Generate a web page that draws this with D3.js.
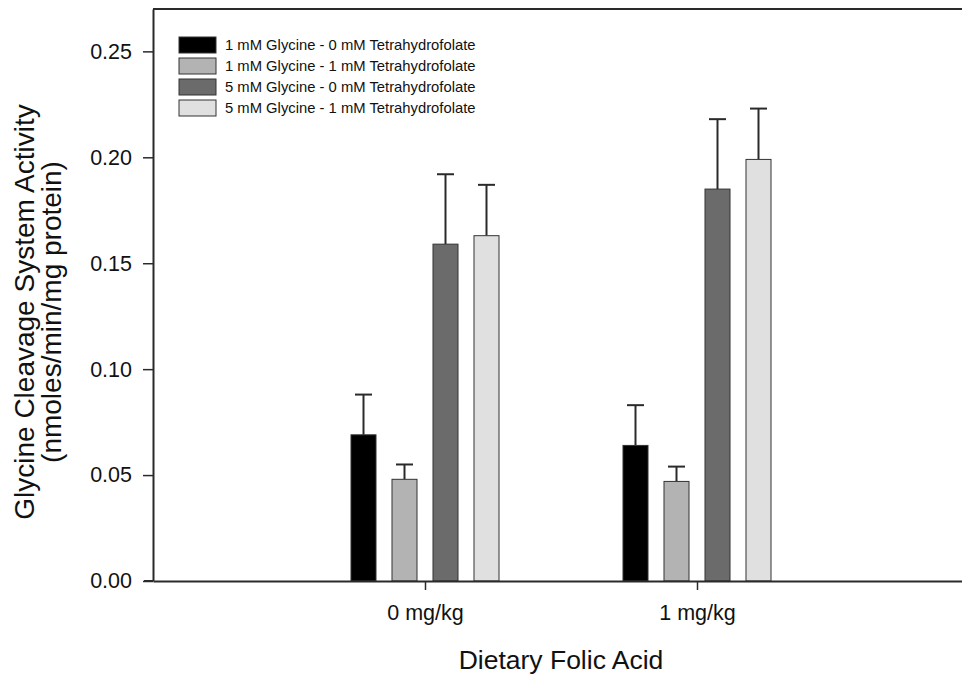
<!DOCTYPE html>
<html>
<head>
<meta charset="utf-8">
<script src="https://cdn.jsdelivr.net/npm/d3@7"></script>
<style>
  body { margin: 0; background: #fff; }
  svg { display: block; font-family: 'Liberation Sans', Arial, sans-serif; }
</style>
</head>
<body>
<div class="chart"></div>
<script>
// data
const categories = ['0 mg/kg', '1 mg/kg'];
const seriesNames = [
  '1 mM Glycine - 0 mM Tetrahydrofolate',
  '1 mM Glycine - 1 mM Tetrahydrofolate',
  '5 mM Glycine - 0 mM Tetrahydrofolate',
  '5 mM Glycine - 1 mM Tetrahydrofolate'
];
const means = [
  [0.069, 0.048, 0.159, 0.163],
  [0.064, 0.047, 0.185, 0.199]
];
const errors = [
  [0.019, 0.007, 0.033, 0.024],
  [0.019, 0.007, 0.033, 0.024]
];
const yTicks = [0, 0.05, 0.10, 0.15, 0.20, 0.25];
const fills = ['#000000', '#b3b3b3', '#6b6b6b', '#e0e0e0'];

const width = 962;
const height = 677;
const margin = { top: 9, left: 153, bottom: 96 };
const plotRight = 969; // frame runs past the picture edge

const svg = d3
  .select('.chart')
  .append('svg')
  .attr('width', width)
  .attr('height', height);

const x = d3.scaleLinear().domain([0, 3]).range([margin.left, plotRight]);

const inner = d3
  .scaleBand()
  .domain(d3.range(seriesNames.length))
  .range([-82, 82])
  .paddingInner(0.39)
  .paddingOuter(0.195);

const y = d3
  .scaleLinear()
  .domain([0, 0.27])
  .range([height - margin.bottom, margin.top]);

const rows = [];
means.forEach((vals, ci) => {
  vals.forEach((v, si) => {
    rows.push({ ci, si, v, e: errors[ci][si] });
  });
});

const barX = (d) => x(d.ci + 1) + inner(d.si);

// error bars (upper only), drawn under the bars
const errG = svg.append('g').attr('stroke', '#2a2a2a').attr('stroke-width', 2);
errG
  .selectAll('line.stem')
  .data(rows)
  .enter()
  .append('line')
  .attr('x1', (d) => barX(d) + inner.bandwidth() / 2)
  .attr('x2', (d) => barX(d) + inner.bandwidth() / 2)
  .attr('y1', (d) => y(d.v))
  .attr('y2', (d) => y(d.v + d.e));
errG
  .selectAll('line.cap')
  .data(rows)
  .enter()
  .append('line')
  .attr('x1', (d) => barX(d) + inner.bandwidth() / 2 - 8.5)
  .attr('x2', (d) => barX(d) + inner.bandwidth() / 2 + 8.5)
  .attr('y1', (d) => y(d.v + d.e))
  .attr('y2', (d) => y(d.v + d.e));

svg
  .append('g')
  .selectAll('rect')
  .data(rows)
  .enter()
  .append('rect')
  .attr('x', barX)
  .attr('y', (d) => y(d.v))
  .attr('width', inner.bandwidth())
  .attr('height', (d) => y(0) - y(d.v))
  .attr('fill', (d) => fills[d.si])
  .attr('stroke', '#333')
  .attr('stroke-width', 1);

// y axis
const yAxis = svg
  .append('g')
  .attr('transform', `translate(${margin.left},0)`)
  .call(
    d3.axisLeft(y)
      .tickValues(yTicks)
      .tickFormat(d3.format('.2f'))
      .tickSize(10)
      .tickPadding(11)
      .tickSizeOuter(0)
  );
yAxis.select('.domain').attr('stroke', '#2a2a2a').attr('stroke-width', 2);
yAxis.selectAll('.tick line').attr('stroke', '#2a2a2a').attr('stroke-width', 1.5);
yAxis.selectAll('.tick text')
  .attr('font-size', '21.5px')
  .attr('fill', '#111')
  .attr('font-family', "'Liberation Sans', Arial, sans-serif");

// x axis
const xAxis = svg
  .append('g')
  .attr('transform', `translate(0,${y(0)})`)
  .call(
    d3.axisBottom(x)
      .tickValues([1, 2])
      .tickFormat((d) => categories[d - 1])
      .tickSize(9)
      .tickPadding(15)
      .tickSizeOuter(0)
  );
xAxis.select('.domain').attr('stroke', '#2a2a2a').attr('stroke-width', 2);
xAxis.selectAll('.tick line').attr('stroke', '#2a2a2a').attr('stroke-width', 1.5);
xAxis.selectAll('.tick text')
  .attr('font-size', '21.5px')
  .attr('fill', '#111')
  .attr('font-family', "'Liberation Sans', Arial, sans-serif");

// top frame line and little stub left of origin
svg.append('line')
  .attr('x1', margin.left).attr('x2', plotRight)
  .attr('y1', y(0.27)).attr('y2', y(0.27))
  .attr('stroke', '#2a2a2a').attr('stroke-width', 2);
svg.append('line')
  .attr('x1', margin.left - 9).attr('x2', margin.left)
  .attr('y1', y(0)).attr('y2', y(0))
  .attr('stroke', '#2a2a2a').attr('stroke-width', 2);

// axis titles
svg.append('text')
  .attr('x', x(1.5))
  .attr('y', 669)
  .attr('text-anchor', 'middle')
  .attr('font-size', '26.5px')
  .attr('fill', '#111')
  .text('Dietary Folic Acid');

const yTitle = svg.append('text')
  .attr('transform', 'translate(0,312) rotate(-90)')
  .attr('text-anchor', 'middle')
  .attr('font-size', '28px')
  .attr('fill', '#111');
yTitle.append('tspan').attr('x', 0).attr('y', 34).text('Glycine Cleavage System Activity');
yTitle.append('tspan').attr('x', 0).attr('y', 61).text('(nmoles/min/mg protein)');

// legend
const legend = svg
  .append('g')
  .selectAll('g')
  .data(seriesNames)
  .enter()
  .append('g')
  .attr('transform', (d, i) => `translate(179,${37 + i * 21})`);
legend.append('rect')
  .attr('width', 37)
  .attr('height', 16)
  .attr('fill', (d, i) => fills[i])
  .attr('stroke', '#333')
  .attr('stroke-width', 1);
legend.append('text')
  .attr('x', 46)
  .attr('y', 13)
  .attr('font-size', '14.8px')
  .attr('fill', '#111')
  .text((d) => d);
</script>
</body>
</html>
